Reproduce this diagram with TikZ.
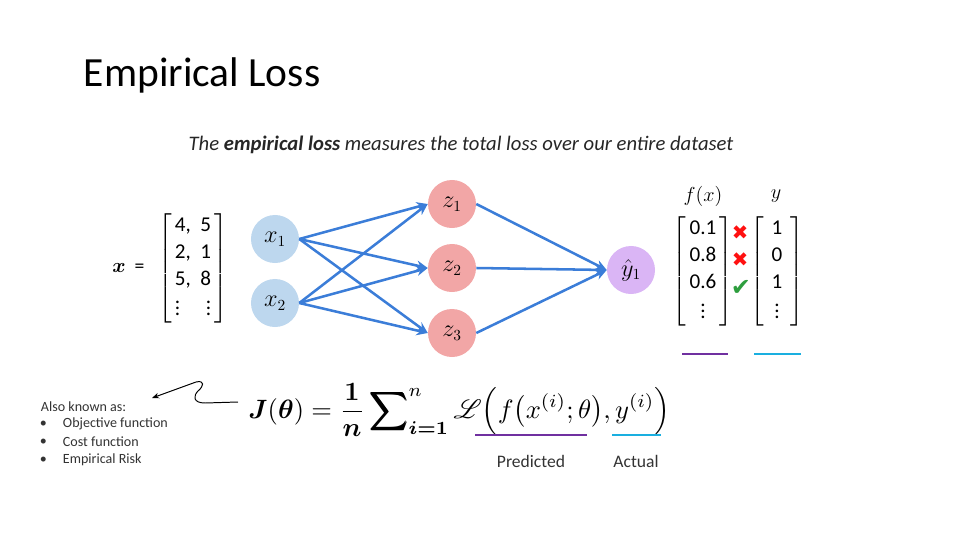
\documentclass[tikz,border=0pt]{standalone}
\usepackage[no-math]{fontspec}
\setmainfont{Carlito}
\newfontfamily\symfont{DejaVu Sans}
\usepackage{amsmath, bm, mathrsfs}
\usetikzlibrary{arrows.meta, positioning}

\definecolor{inblue}{HTML}{BDD7EE}
\definecolor{hidpink}{HTML}{F2A6A6}
\definecolor{outlav}{HTML}{DAB5F5}
\definecolor{wireblue}{HTML}{3B7DD8}
\definecolor{predpurple}{HTML}{7030A0}
\definecolor{actcyan}{HTML}{1AAFE0}
\definecolor{wrongred}{HTML}{FF1010}
\definecolor{rightgreen}{HTML}{2E9E3E}

\begin{document}
\begin{tikzpicture}[
  x=0.025cm, y=-0.025cm,
  neuron/.style={circle, minimum size=1.2cm, inner sep=0pt,
                 font=\fontsize{16}{18}\selectfont},
  innode/.style={neuron, fill=inblue},
  hidnode/.style={neuron, fill=hidpink},
  outnode/.style={neuron, fill=outlav},
  wire/.style={-{Stealth[length=8pt, width=7pt]}, wireblue, line width=1.8pt},
  vecbox/.style={inner sep=0pt, font=\fontsize{15}{19}\selectfont},
  veclbl/.style={font=\fontsize{14}{16}\selectfont},
  tickbox/.style={font=\symfont\fontsize{14}{16}\selectfont},
  predline/.style={predpurple, line width=2pt},
  actline/.style={actcyan, line width=2pt},
  note/.style={font=\fontsize{10}{12}\selectfont, text=black!80, anchor=west},
  lbl/.style={font=\fontsize{12.5}{14}\selectfont, text=black!80},
  curly/.style={-{Stealth[length=5pt, width=4pt]}, line width=0.7pt},
]
  \useasboundingbox (0,0) rectangle (960,540);

  %% ── Title ──
  \node[anchor=base west, font=\fontsize{29.5}{34}\selectfont] (title)
    at (79,86) {Empirical Loss};
  \node[anchor=base, font=\fontsize{14.7}{17}\selectfont\itshape, text=black!85]
    (subtitle) at (461,150)
    {The \textbf{empirical loss} measures the total loss over our entire dataset};

  %% ── Input data ──
  \node[vecbox] (xmat) at (193,268)
    {$\left[\begin{array}{@{\,}l@{\ \ }r@{\,}}
      \text{4,} & \text{5}\\ \text{2,} & \text{1}\\
      \text{5,} & \text{8}\\ \vdots & \vdots
     \end{array}\right]$};
  \node[veclbl, left=6pt of xmat] (xeq) {$\bm{x}$\ \ =};

  %% ── Network ──
  \node[innode]  (x1) at (275,239) {$x_1$};
  \node[innode]  (x2) at (275,303) {$x_2$};
  \node[hidnode] (z1) at (452,204) {$z_1$};
  \node[hidnode] (z2) at (452,268) {$z_2$};
  \node[hidnode] (z3) at (452,333) {$z_3$};
  \node[outnode] (yhat) at (631,270) {$\hat{y}_1$};

  \foreach \i in {x1,x2}
    \foreach \j in {z1,z2,z3}
      \draw[wire] (\i.east) -- (\j.west);
  \foreach \j in {z1,z2,z3}
    \draw[wire] (\j.east) -- (yhat.west);

  %% ── Predictions vs. labels ──
  \node[veclbl] (flbl) at (703,196) {$f(x)$};
  \node[veclbl] (ylbl) at (776,196) {$y$};
  \node[vecbox] (fmat) at (703,271)
    {$\left[\begin{array}{@{\,}c@{\,}}
      \text{0.1}\\ \text{0.8}\\ \text{0.6}\\ \vdots
     \end{array}\right]$};
  \node[vecbox] (ymat) at (777,271)
    {$\left[\begin{array}{@{\ \,}c@{\ \,}}
      \text{1}\\ \text{0}\\ \text{1}\\ \vdots
     \end{array}\right]$};
  \node[tickbox, text=wrongred]   (t1) at (740,233) {✖};
  \node[tickbox, text=wrongred]   (t2) at (740,260) {✖};
  \node[tickbox, text=rightgreen, font=\symfont\fontsize{17}{18}\selectfont]
    (t3) at (741,288) {✔};
  \draw[predline] (682,354) -- (728,354);
  \draw[actline]  (754,354) -- (801,354);

  %% ── Loss ──
  \node[anchor=west, inner sep=0pt] (loss) at (248,410)
    {\resizebox{10.55cm}{!}{$\displaystyle
      \bm{J}(\bm{\theta}) = \frac{\mathbf{1}}{\bm{n}}
      \bm{\sum}\nolimits_{\bm{i=1}}^{n}
      \mathscr{L}\Big(f\big(x^{(i)};\theta\big),y^{(i)}\Big)$}};
  \draw[predline] (475,435) -- (587,435);
  \draw[actline]  (612,435) -- (661,435);
  \node[lbl] (predlbl) at (531,461) {Predicted};
  \node[lbl] (actlbl)  at (636,461) {Actual};

  %% ── Also known as ──
  \node[note] (aka) at (36,407) {Also known as:};
  \foreach \t [count=\k] in {Objective function, Cost function, Empirical Risk} {
    \node[note] (bul\k) at (35,406+18*\k) {•};
    \node[note] (aka\k) at (58,406+18*\k) {\t};
  }
  \coordinate (sqtail) at (238,402);
  \coordinate (sqtip)  at (152,398);
  \draw[curly] (sqtail) -- (205,403)
    .. controls (193,403) and (193,396) .. (198,391)
    .. controls (204,386) and (205,380) .. (196,382) -- (sqtip);
\end{tikzpicture}
\end{document}
